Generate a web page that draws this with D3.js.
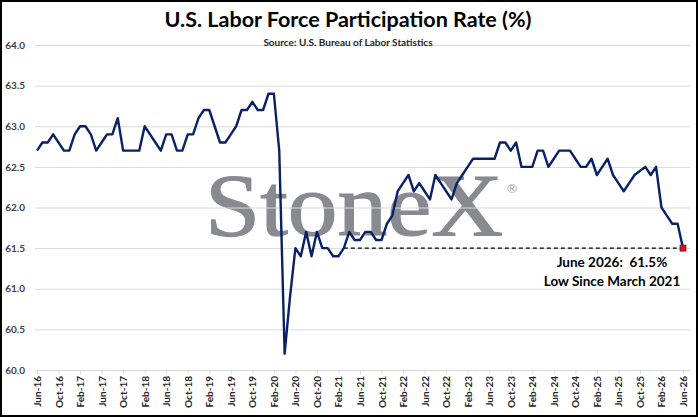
<!DOCTYPE html>
<html>
<head>
<meta charset="utf-8">
<script src="https://cdn.jsdelivr.net/npm/d3@7"></script>
<style>
  body{margin:0;background:#fff;}
  text{font-family:Lato,'Open Sans',sans-serif;}
</style>
</head>
<body>
<div id="chart"></div>
<script>
//monthly participation rate (%), Jun-2016 .. Jun-2026
//Oct-2025 was never published (shutdown) so it is left empty
const rate2016 = [62.7, 62.8, 62.8, 62.9, 62.8, 62.7, 62.7]; //Jun-Dec
const rate2017 = [62.9, 63.0, 63.0, 62.9, 62.7, 62.8, 62.9, 62.9, 63.1, 62.7, 62.7, 62.7];
const rate2018 = [62.7, 63.0, 62.9, 62.8, 62.7, 62.9, 62.9, 62.7, 62.7, 62.9, 62.9, 63.1];
const rate2019 = [63.2, 63.2, 63.0, 62.8, 62.8, 62.9, 63.0, 63.2, 63.2, 63.3, 63.2, 63.2];
const rate2020 = [63.4, 63.4, 62.7, 60.2, 60.9, 61.5, 61.4, 61.7, 61.4, 61.7, 61.5, 61.5];
const rate2021 = [61.4, 61.4, 61.5, 61.7, 61.6, 61.6, 61.7, 61.7, 61.6, 61.6, 61.8, 61.9];
const rate2022 = [62.2, 62.3, 62.4, 62.2, 62.3, 62.2, 62.1, 62.4, 62.3, 62.2, 62.1, 62.3];
const rate2023 = [62.4, 62.5, 62.6, 62.6, 62.6, 62.6, 62.6, 62.8, 62.8, 62.7, 62.8, 62.5];
const rate2024 = [62.5, 62.5, 62.7, 62.7, 62.5, 62.6, 62.7, 62.7, 62.7, 62.6, 62.5, 62.5];
const rate2025 = [62.6, 62.4, 62.5, 62.6, 62.4, 62.3, 62.2, 62.3, 62.4, null, 62.5, 62.4];
const rate2026 = [62.5, 62.0, 61.9, 61.8, 61.8, 61.5]; //Jan-Jun

const YEARS = [2016, 2017, 2018, 2019, 2020, 2021, 2022, 2023, 2024, 2025, 2026];
const RATES = [rate2016, rate2017, rate2018, rate2019, rate2020, rate2021, rate2022, rate2023, rate2024, rate2025, rate2026];
const MONTHS = ['Jan','Feb','Mar','Apr','May','Jun','Jul','Aug','Sep','Oct','Nov','Dec'];
const Y_TICKS = [60.0, 60.5, 61.0, 61.5, 62.0, 62.5, 63.0, 63.5, 64.0];
const X_TICKS = ['Jun-16','Oct-16','Feb-17','Jun-17','Oct-17','Feb-18','Jun-18','Oct-18','Feb-19','Jun-19',
                 'Oct-19','Feb-20','Jun-20','Oct-20','Feb-21','Jun-21','Oct-21','Feb-22','Jun-22','Oct-22',
                 'Feb-23','Jun-23','Oct-23','Feb-24','Jun-24','Oct-24','Feb-25','Jun-25','Oct-25','Feb-26','Jun-26'];

const TITLE = 'U.S. Labor Force Participation Rate (%)';
const SOURCE = 'Source: U.S. Bureau of Labor Statistics';
const NOTE = ['June 2026:  61.5%', 'Low Since March 2021'];
const LOW_VALUE = 61.5;
const LOW_FROM = 'Mar-21';

//layout
const W = 698, H = 417;
const PLOT = {left:35, right:690, top:45, bottom:370, firstX:37, lastX:683};
const LINE_COLOR = '#0a2263';
const GRID_COLOR = '#d9d9d9';

//build the month rows
let data = [];
YEARS.forEach((yr, i) => {
    let startMonth = (i === 0) ? 5 : 0; //series starts in June 2016
    RATES[i].forEach((v, j) => {
        data.push({label: MONTHS[startMonth + j] + '-' + String(yr).slice(2), value: v});
    });
});

const svg = d3.select('#chart').append('svg')
    .attr('width', W)
    .attr('height', H);

svg.append('rect').attr('width', W).attr('height', H).attr('fill', '#fff');

//scales
const x = d3.scalePoint()
    .domain(data.map(d => d.label))
    .range([PLOT.firstX, PLOT.lastX]);
const y = d3.scaleLinear()
    .domain([60, 64])
    .range([PLOT.bottom, PLOT.top]);

//watermark sits behind the grid
let wm = svg.append('g').attr('id', 'watermark');
wm.append('text')
    .attr('x', 205).attr('y', 235)
    .attr('textLength', 298).attr('lengthAdjust', 'spacingAndGlyphs')
    .style('font-family', "'Liberation Serif','DejaVu Serif',serif")
    .style('font-size', '88px')
    .attr('fill', '#878a91')
    .attr('stroke', '#878a91')
    .attr('stroke-width', 1.2)
    .text('StoneX');
wm.append('text')
    .attr('x', 512).attr('y', 193)
    .attr('text-anchor', 'middle')
    .style('font-family', "'DejaVu Sans',sans-serif")
    .style('font-size', '13px')
    .attr('fill', '#a3a5aa')
    .text('\u00AE');

//y axis + gridlines
let yAxis = d3.axisLeft(y)
    .tickValues(Y_TICKS)
    .tickFormat(d3.format('.1f'))
    .tickSize(-(PLOT.right - PLOT.left))
    .tickPadding(10);
let gy = svg.append('g')
    .attr('id', 'y-axis')
    .attr('transform', 'translate(' + PLOT.left + ',0)')
    .call(yAxis);
gy.select('.domain').remove();
gy.selectAll('line').attr('stroke', GRID_COLOR).attr('stroke-width', 1);
gy.selectAll('text')
    .attr('fill', '#404040')
    .style('font-size', '10px')
    .style('font-weight', 'bold');

//x axis
let xAxis = d3.axisBottom(x)
    .tickValues(X_TICKS)
    .tickSize(4);
let gx = svg.append('g')
    .attr('id', 'x-axis')
    .attr('transform', 'translate(0,' + PLOT.bottom + ')')
    .call(xAxis);
gx.select('.domain').remove();
gx.selectAll('line').attr('stroke', GRID_COLOR);
gx.selectAll('text')
    .attr('transform', 'rotate(-90)')
    .attr('text-anchor', 'end')
    .attr('x', -6)
    .attr('y', 0)
    .attr('dy', '0.35em')
    .attr('fill', '#262626')
    .style('font-size', '10px')
    .style('font-weight', 'bold');

//dashed "low" reference line
svg.append('line')
    .attr('x1', x(LOW_FROM)).attr('x2', x(data[data.length - 1].label))
    .attr('y1', y(LOW_VALUE)).attr('y2', y(LOW_VALUE))
    .attr('stroke', '#000')
    .attr('stroke-width', 1.3)
    .attr('stroke-dasharray', '4,3');

//the series line, missing month is bridged like the original
let line = d3.line()
    .x(d => x(d.label))
    .y(d => y(d.value));
svg.append('path')
    .datum(data.filter(d => d.value !== null))
    .attr('fill', 'none')
    .attr('stroke', LINE_COLOR)
    .attr('stroke-width', 2.4)
    .attr('stroke-linejoin', 'round')
    .attr('d', line);

//last point marker
let last = data[data.length - 1];
svg.append('rect')
    .attr('x', x(last.label) - 3).attr('y', y(last.value) - 3)
    .attr('width', 6).attr('height', 6)
    .attr('fill', '#ff0000')
    .attr('stroke', '#1f3a7a')
    .attr('stroke-width', 0.8);

//annotation
svg.selectAll('.note')
    .data(NOTE)
    .enter()
    .append('text')
    .attr('class', 'note')
    .attr('x', 612)
    .attr('y', (d, i) => 267 + i * 19)
    .attr('text-anchor', 'middle')
    .attr('fill', '#000')
    .style('font-size', '13.5px')
    .style('font-weight', 'bold')
    .style('white-space', 'pre')
    .text(d => d);

//titles
svg.append('text')
    .attr('x', 348).attr('y', 27)
    .attr('text-anchor', 'middle')
    .style('font-size', '21.5px')
    .style('font-weight', 'bold')
    .attr('fill', '#000')
    .text(TITLE);
svg.append('text')
    .attr('x', 348).attr('y', 46)
    .attr('text-anchor', 'middle')
    .style('font-size', '10px')
    .style('font-weight', 'bold')
    .attr('fill', '#262626')
    .text(SOURCE);

//frame
svg.append('rect')
    .attr('x', 1).attr('y', 1)
    .attr('width', W - 2).attr('height', H - 2)
    .attr('fill', 'none')
    .attr('stroke', '#000')
    .attr('stroke-width', 2);
</script>
</body>
</html>
